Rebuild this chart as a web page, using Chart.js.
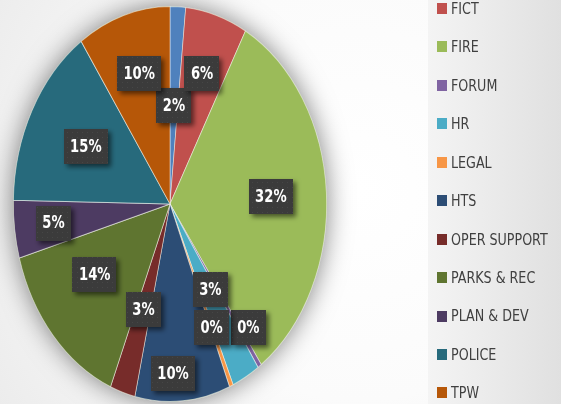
<!DOCTYPE html>
<html>
<head>
<meta charset="utf-8">
<script src="https://cdn.jsdelivr.net/npm/chart.js@4"></script>
<style>
  html, body { margin: 0; padding: 0; background: #fff; }
  canvas { display: block; }
</style>
</head>
<body>
<canvas id="chart" width="561" height="404"></canvas>
<script>
// departments, clockwise from 12 o'clock (first one is cut off at the top of the legend)
const departments = ["ADMIN", "FICT", "FIRE", "FORUM", "HR", "LEGAL", "HTS",
  "OPER SUPPORT", "PARKS & REC", "PLAN & DEV", "POLICE", "TPW"];
// share of total, percent
const shares = [1.6, 6.4, 32.1, 0.4, 2.9, 0.4, 9.8, 2.6, 14.4, 4.7, 15.1, 9.6];
const sliceColors = ["#4F81BD", "#C0504D", "#9BBB59", "#8064A2", "#4BACC6", "#F79646",
  "#2C4D75", "#772C2A", "#5F7530", "#4D3B62", "#276A7C", "#B65708"];

// label placement, like excel's "best fit": fraction of radius + angle nudge (deg)
const labelRadius = [0.5, 0.69, 0.645, 0.8, 0.505, 0.678, 0.86, 0.56, 0.6, 0.75, 0.61, 0.69];
const labelNudge = [0, 0, 0, -3.8, -1.7, 0, 3.4, 0, 5, 0, 0, 0.7];

const STRETCH_Y = 198 / 157; // pie is drawn as a tall ellipse
const LABEL_FONT = "bold 17px 'DejaVu Sans Condensed', sans-serif";
const LABEL_SQUEEZE = 0.86; // calibri-ish narrowness
const LEGEND_FONT = "15px 'DejaVu Sans Condensed', sans-serif";
const LEGEND_SQUEEZE = 0.94;

const makeDots = () => {
  const c = document.createElement("canvas");
  c.width = 5;
  c.height = 5;
  const g = c.getContext("2d");
  g.fillStyle = "#3b3b3b";
  g.fillRect(0, 0, 5, 5);
  g.fillStyle = "#464646";
  g.fillRect(2, 2, 1, 1);
  return c;
};

const backdrop = {
  id: "backdrop",
  beforeDraw: (chart) => {
    const { ctx, width, height } = chart;
    ctx.save();
    const bg = ctx.createRadialGradient(360, 190, 0, 360, 190, 420);
    bg.addColorStop(0, "#ffffff");
    bg.addColorStop(0.5, "#fbfbfb");
    bg.addColorStop(1, "#ececec");
    ctx.fillStyle = bg;
    ctx.fillRect(0, 0, width, height);

    const panel = ctx.createLinearGradient(428, 0, width, 0);
    panel.addColorStop(0, "#f4f4f4");
    panel.addColorStop(1, "#e0e0e0");
    ctx.fillStyle = panel;
    ctx.fillRect(428, 0, width - 428, height);
    ctx.restore();
  },
};

// squash the datasets into an ellipse and give it a soft glow shadow
const ellipse = {
  id: "ellipse",
  beforeDatasetsDraw: (chart) => {
    const arc = chart.getDatasetMeta(0).data[0];
    const { ctx } = chart;
    ctx.save();
    ctx.translate(arc.x, arc.y);
    ctx.scale(1, STRETCH_Y);
    ctx.translate(-arc.x, -arc.y);

    ctx.save();
    ctx.shadowColor = "rgba(0,0,0,0.5)";
    ctx.shadowBlur = 26;
    ctx.fillStyle = "#9BBB59";
    ctx.beginPath();
    ctx.arc(arc.x, arc.y, arc.outerRadius, 0, Math.PI * 2);
    ctx.fill();
    ctx.restore();
  },
  afterDatasetsDraw: (chart) => {
    chart.ctx.restore();
  },
};

const boxLabels = {
  id: "boxLabels",
  afterDraw: (chart) => {
    const { ctx } = chart;
    const total = shares.reduce((a, b) => a + b, 0);
    const dots = ctx.createPattern(makeDots(), "repeat");
    ctx.save();
    ctx.font = LABEL_FONT;
    ctx.textAlign = "center";
    ctx.textBaseline = "middle";
    chart.getDatasetMeta(0).data.forEach((arc, i) => {
      const mid = (arc.startAngle + arc.endAngle) / 2 + (labelNudge[i] * Math.PI) / 180;
      const r = arc.outerRadius * labelRadius[i];
      const x = arc.x + Math.cos(mid) * r;
      const y = arc.y + Math.sin(mid) * r * STRETCH_Y;
      const text = Math.round((shares[i] / total) * 100) + "%";
      const w = ctx.measureText(text).width * LABEL_SQUEEZE + 13;
      const h = 35;

      ctx.save();
      ctx.shadowColor = "rgba(0,0,0,0.55)";
      ctx.shadowBlur = 5;
      ctx.shadowOffsetX = 3;
      ctx.shadowOffsetY = 3;
      ctx.fillStyle = dots;
      ctx.fillRect(Math.round(x - w / 2), Math.round(y - h / 2), Math.round(w), h);
      ctx.restore();

      ctx.save();
      ctx.translate(x, y + 1);
      ctx.scale(LABEL_SQUEEZE, 1);
      ctx.fillStyle = "#ffffff";
      ctx.fillText(text, 0, 0);
      ctx.restore();
    });
    ctx.restore();
  },
};

const sideLegend = {
  id: "sideLegend",
  afterDraw: (chart) => {
    const { ctx } = chart;
    const x0 = 437;
    const y0 = -29.5; // first entry sits above the crop
    const step = 38.45;
    ctx.save();
    ctx.font = LEGEND_FONT;
    ctx.textBaseline = "middle";
    departments.forEach((name, i) => {
      const y = y0 + i * step;
      ctx.fillStyle = sliceColors[i];
      ctx.fillRect(x0, Math.round(y - 6), 10, 11);
      ctx.save();
      ctx.translate(x0 + 14, y + 1);
      ctx.scale(LEGEND_SQUEEZE, 1);
      ctx.fillStyle = "#404040";
      ctx.fillText(name, 0, 0);
      ctx.restore();
    });
    ctx.restore();
  },
};

const ctx = document.getElementById("chart").getContext("2d");

new Chart(ctx, {
  type: "pie",
  data: {
    labels: departments,
    datasets: [
      {
        data: shares,
        backgroundColor: sliceColors,
        borderColor: "rgba(255,255,255,0.55)",
        borderWidth: 0.8,
      },
    ],
  },
  options: {
    responsive: false,
    animation: false,
    events: [],
    layout: {
      padding: { left: 13, right: 234, top: 47, bottom: 43 },
    },
    plugins: {
      legend: { display: false },
      tooltip: { enabled: false },
      title: { display: false },
    },
  },
  plugins: [backdrop, ellipse, boxLabels, sideLegend],
});
</script>
</body>
</html>
